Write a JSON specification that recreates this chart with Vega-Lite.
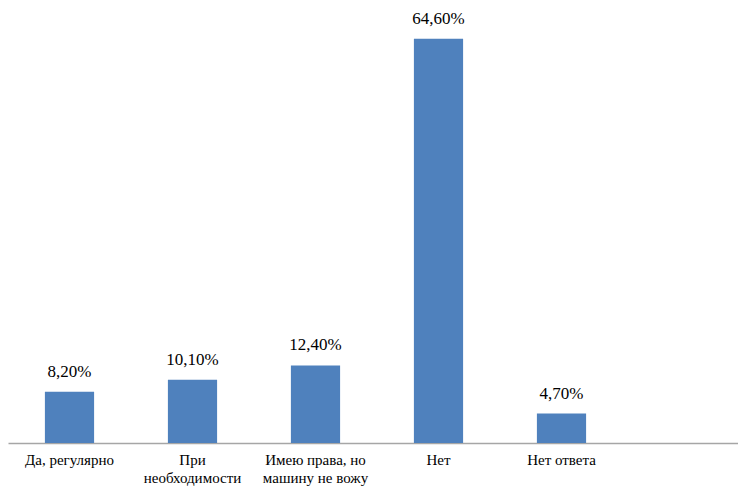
{
  "$schema": "https://vega.github.io/schema/vega-lite/v6.json",
  "autosize": "none",
  "width": 738,
  "height": 438,
  "padding": {"left": 8, "top": 5, "right": 0, "bottom": 46},
  "background": "white",
  "config": {
    "locale": {"number": {"decimal": ",", "thousands": " ", "grouping": [3], "currency": ["", " ₽"]}},
    "view": {"stroke": null},
    "font": "'Liberation Serif', 'Times New Roman', 'DejaVu Serif', serif"
  },
  "data": {
    "values": [
      {"category": "Да, регулярно", "value": 0.082},
      {"category": "При|необходимости", "value": 0.101},
      {"category": "Имею права, но|машину не вожу", "value": 0.124},
      {"category": "Нет", "value": 0.646},
      {"category": "Нет ответа", "value": 0.047}
    ]
  },
  "encoding": {
    "x": {
      "field": "category",
      "type": "nominal",
      "sort": null,
      "scale": {
        "domain": ["Да, регулярно", "При|необходимости", "Имею права, но|машину не вожу", "Нет", "Нет ответа", " "],
        "paddingInner": 0.6,
        "paddingOuter": 0.3
      },
      "axis": {
        "title": null,
        "labelAngle": 0,
        "labelExpr": "split(datum.label, '|')",
        "labelFont": "'Liberation Serif', 'Times New Roman', 'DejaVu Serif', serif",
        "labelFontSize": 15,
        "labelColor": "#000000",
        "labelLineHeight": 18,
        "labelPadding": 9,
        "labelBaseline": "top",
        "ticks": false,
        "domainColor": "#A6A6A6",
        "domainWidth": 1.5,
        "labelLimit": 200
      }
    },
    "y": {
      "field": "value",
      "type": "quantitative",
      "scale": {"domain": [0, 0.7]},
      "axis": null
    }
  },
  "layer": [
    {"mark": {"type": "bar", "color": "#4F81BD"}},
    {
      "mark": {"type": "text", "baseline": "alphabetic", "dy": -15, "fontSize": 17, "font": "'Liberation Serif', 'Times New Roman', 'DejaVu Serif', serif", "color": "#000000"},
      "encoding": {"text": {"field": "value", "type": "quantitative", "format": ".2%"}}
    }
  ]
}
